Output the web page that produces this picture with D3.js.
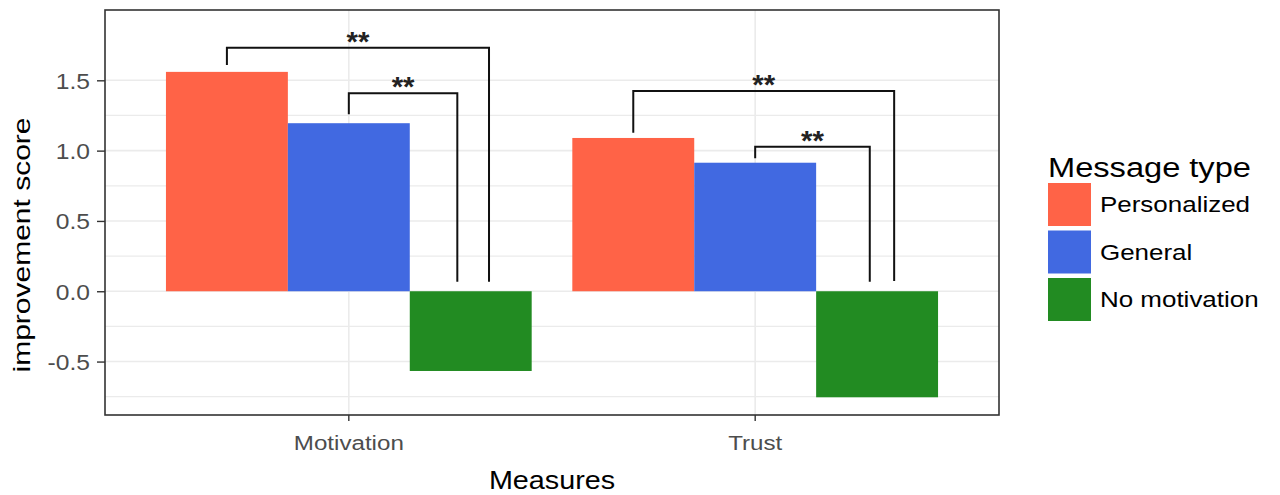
<!DOCTYPE html>
<html>
<head>
<meta charset="utf-8">
<script src="https://cdn.jsdelivr.net/npm/d3@7"></script>
<style>
  html, body { margin: 0; padding: 0; background: #fff; }
  svg { display: block; font-family: "Liberation Sans", Arial, Helvetica, sans-serif; }
</style>
</head>
<body>
<svg id="chart" width="1280" height="495"></svg>
<script>
// ---- data ----
const measures = ["Motivation", "Trust"];
const messageTypes = ["Personalized", "General", "No motivation"];
const personalized = [1.56, 1.09];
const general = [1.195, 0.914];
const noMotivation = [-0.567, -0.754];
const yMajorTicks = [-0.5, 0.0, 0.5, 1.0, 1.5];
const yMinorTicks = [-0.75, -0.25, 0.25, 0.75, 1.25];
const colors = ["#FF6347", "#4169E1", "#228B22"];
// significance brackets (x in category units: 1 = Motivation, 2 = Trust)
const bracketXmin = [0.7, 1.0, 1.7, 2.0];
const bracketXmax = [1.345, 1.267, 2.342, 2.282];
const bracketTop = [1.732, 1.408, 1.424, 1.028];
const bracketLeftEnd = [1.609, 1.258, 1.127, 0.945];
const bracketRightEnd = [0.068, 0.068, 0.073, 0.068];
const bracketLabels = ["**", "**", "**", "**"];

const seriesValues = [personalized, general, noMotivation];
const rows = [];
measures.forEach((m, i) => messageTypes.forEach((t, j) => rows.push({measure: m, type: t, value: seriesValues[j][i]})));

// ---- layout ----
const svg = d3.select("#chart");
const panel = {left: 105, right: 999, top: 10, bottom: 415};

const x = d3.scaleBand().domain(measures).range([panel.left, panel.right])
  .paddingInner(0.1).paddingOuter(0.15);
const xSub = d3.scaleBand().domain(messageTypes).range([0, x.bandwidth()]).padding(0);
const xNum = d3.scaleLinear().domain([1, 2])
  .range([x(measures[0]) + x.bandwidth() / 2, x(measures[1]) + x.bandwidth() / 2]);
const y = d3.scaleLinear().domain([-0.88, 2.0]).range([panel.bottom, panel.top]);
const color = d3.scaleOrdinal().domain(messageTypes).range(colors);

svg.append("rect").attr("width", 1280).attr("height", 495).attr("fill", "#fff");

// grid
const grid = svg.append("g");
grid.selectAll(".minor").data(yMinorTicks).join("line")
  .attr("x1", panel.left).attr("x2", panel.right)
  .attr("y1", d => y(d)).attr("y2", d => y(d))
  .attr("stroke", "#EBEBEB").attr("stroke-width", 1.2);
grid.selectAll(".major").data(yMajorTicks).join("line")
  .attr("x1", panel.left).attr("x2", panel.right)
  .attr("y1", d => y(d)).attr("y2", d => y(d))
  .attr("stroke", "#EBEBEB").attr("stroke-width", 1.6);
grid.selectAll(".vmajor").data(measures).join("line")
  .attr("x1", d => x(d) + x.bandwidth() / 2).attr("x2", d => x(d) + x.bandwidth() / 2)
  .attr("y1", panel.top).attr("y2", panel.bottom)
  .attr("stroke", "#EBEBEB").attr("stroke-width", 1.6);

// bars
svg.append("g").selectAll("rect").data(rows).join("rect")
  .attr("x", d => x(d.measure) + xSub(d.type))
  .attr("width", xSub.bandwidth())
  .attr("y", d => y(Math.max(0, d.value)))
  .attr("height", d => Math.abs(y(d.value) - y(0)))
  .attr("fill", d => color(d.type));

// brackets
const br = svg.append("g");
bracketXmin.forEach((xm, i) => {
  const x0 = xNum(xm), x1 = xNum(bracketXmax[i]);
  const pts = [[x0, y(bracketLeftEnd[i])], [x0, y(bracketTop[i])], [x1, y(bracketTop[i])], [x1, y(bracketRightEnd[i])]];
  br.append("path").attr("d", d3.line()(pts))
    .attr("fill", "none").attr("stroke", "#111").attr("stroke-width", 2);
  br.append("text")
    .attr("transform", `translate(${(x0 + x1) / 2},${y(bracketTop[i]) + 3}) scale(1.05,1)`)
    .attr("text-anchor", "middle").attr("font-size", 28).attr("font-weight", "bold")
    .attr("fill", "#222").text(bracketLabels[i]);
});

// panel border
svg.append("rect").attr("x", panel.left).attr("y", panel.top)
  .attr("width", panel.right - panel.left).attr("height", panel.bottom - panel.top)
  .attr("fill", "none").attr("stroke", "#333").attr("stroke-width", 1.6);

// y axis
const yAxis = svg.append("g").attr("transform", `translate(${panel.left},0)`)
  .call(d3.axisLeft(y).tickValues(yMajorTicks).tickSize(8).tickFormat(d => d.toFixed(1)));
yAxis.select(".domain").remove();
yAxis.selectAll(".tick line").attr("stroke", "#333").attr("stroke-width", 1.4);
yAxis.selectAll(".tick text").attr("x", 0).attr("dy", "0.36em")
  .attr("transform", "translate(-15,0) scale(1.12,1)")
  .attr("font-size", 22).attr("fill", "#4D4D4D")
  .attr("font-family", "Liberation Sans, Arial, sans-serif");

// x axis
const xAxis = svg.append("g").attr("transform", `translate(0,${panel.bottom})`)
  .call(d3.axisBottom(x).tickSize(6).tickSizeOuter(0));
xAxis.select(".domain").remove();
xAxis.selectAll(".tick line").attr("stroke", "#333").attr("stroke-width", 1.4);
xAxis.selectAll(".tick text").attr("y", 0).attr("dy", 0)
  .attr("transform", "translate(0,35) scale(1.15,1)")
  .attr("font-size", 21).attr("fill", "#4D4D4D")
  .attr("font-family", "Liberation Sans, Arial, sans-serif");

// axis titles
svg.append("text").attr("transform", `translate(${(panel.left + panel.right) / 2},489) scale(1.15,1)`)
  .attr("text-anchor", "middle").attr("font-size", 25).attr("fill", "#000").text("Measures");
svg.append("text").attr("transform", "translate(30,245) rotate(-90) scale(1.25,1)")
  .attr("text-anchor", "middle").attr("font-size", 24).attr("fill", "#000").text("improvement score");

// legend
const lg = svg.append("g").attr("transform", "translate(1048,0)");
lg.append("text").attr("transform", "translate(0,177) scale(1.165,1)")
  .attr("font-size", 28).attr("fill", "#000").text("Message type");
const keyStep = 47.5, keyTop = 183, keySize = 43;
messageTypes.forEach((t, i) => {
  lg.append("rect").attr("x", 0).attr("y", keyTop + i * keyStep)
    .attr("width", keySize).attr("height", keySize).attr("fill", color(t));
  lg.append("text")
    .attr("transform", `translate(52,${keyTop + i * keyStep + keySize / 2}) scale(1.18,1)`)
    .attr("dy", "0.36em").attr("font-size", 22).attr("fill", "#000").text(t);
});
</script>
</body>
</html>
